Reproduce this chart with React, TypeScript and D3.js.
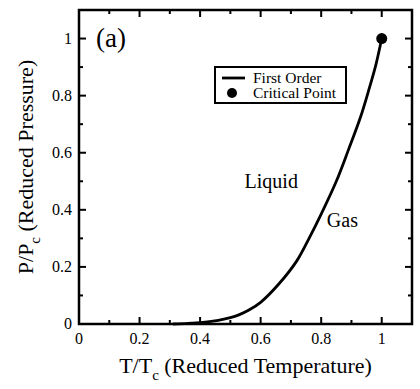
import React from 'react';
import * as d3 from 'd3';

// first-order line
const reducedT = [0.31, 0.36, 0.41, 0.46, 0.5, 0.53, 0.56, 0.6, 0.66, 0.72, 0.76, 0.8, 0.85, 0.89, 0.93, 0.96, 0.98, 1.0];
const reducedP = [0, 0.002, 0.006, 0.013, 0.022, 0.033, 0.048, 0.076, 0.14, 0.222, 0.3, 0.385, 0.5, 0.61, 0.725, 0.83, 0.905, 1.0];
const criticalPoint = [1, 1];

const majorTicks = [0, 0.2, 0.4, 0.6, 0.8, 1];
const minorTicks = [0.1, 0.3, 0.5, 0.7, 0.9, 1.1];
const legendLabels = ['First Order', 'Critical Point'];
const regionLabels = [
  { text: 'Liquid', t: 0.635, p: 0.475 },
  { text: 'Gas', t: 0.87, p: 0.34 },
];

const W = 420;
const H = 389;
const margin = { top: 10, right: 8, bottom: 65, left: 79 };
const FONT = "'Liberation Serif'";

const width = W - margin.left - margin.right;
const height = H - margin.top - margin.bottom;

const x = d3.scaleLinear().domain([0, 1.1]).range([0, width]);
const y = d3.scaleLinear().domain([0, 1.1]).range([height, 0]);
const fmt = (d: number) => String(+d.toFixed(1));

const line = d3
  .line<number>()
  .x((t) => x(t))
  .y((_, i) => y(reducedP[i]))
  .curve(d3.curveCatmullRom.alpha(0.5));

const MAJ = 7;
const MIN = 4;

const txt = (size: number) => ({ fontFamily: FONT, fontSize: `${size}px` });

const App = () => {
  const tickLine = { stroke: '#000', strokeWidth: 2 };
  return (
    <svg
      width={W}
      height={H}
      style={{ position: 'absolute', left: 0, top: 0, background: '#fff', fontFamily: FONT }}
    >
      <g transform={`translate(${margin.left},${margin.top})`}>
        {/* inward ticks on all four sides */}
        {[...majorTicks.map((v) => [v, MAJ]), ...minorTicks.map((v) => [v, MIN])].map(([v, len], i) => (
          <g key={`t${i}`}>
            <line x1={x(v)} x2={x(v)} y1={height} y2={height - len} {...tickLine} />
            <line x1={x(v)} x2={x(v)} y1={0} y2={len} {...tickLine} />
            <line x1={0} x2={len} y1={y(v)} y2={y(v)} {...tickLine} />
            <line x1={width} x2={width - len} y1={y(v)} y2={y(v)} {...tickLine} />
          </g>
        ))}
        <rect width={width} height={height} fill="none" stroke="#000" strokeWidth={2.5} />

        {majorTicks.map((v) => (
          <text key={`xl${v}`} x={x(v)} y={height + 20} textAnchor="middle" style={txt(16)}>
            {fmt(v)}
          </text>
        ))}
        {majorTicks.map((v) => (
          <text key={`yl${v}`} x={-7} y={y(v)} dy="0.33em" textAnchor="end" style={txt(16)}>
            {fmt(v)}
          </text>
        ))}

        {/* axis titles */}
        <text x={width / 2} y={height + 49} textAnchor="middle" style={txt(22)}>
          <tspan>T/T</tspan>
          <tspan dy={7} style={txt(15)}>c</tspan>
          <tspan dy={-7}> (Reduced Temperature)</tspan>
        </text>
        <text transform={`translate(-46,${height / 2}) rotate(-90)`} textAnchor="middle" style={txt(22)}>
          <tspan>P/P</tspan>
          <tspan dy={7} style={txt(15)}>c</tspan>
          <tspan dy={-7}> (Reduced Pressure)</tspan>
        </text>

        <text x={17} y={37} style={txt(27)}>
          (a)
        </text>

        <path d={line(reducedT) ?? ''} fill="none" stroke="#000" strokeWidth={2.8} />
        <circle cx={x(criticalPoint[0])} cy={y(criticalPoint[1])} r={5.5} fill="#000" />

        {regionLabels.map((r) => (
          <text key={r.text} x={x(r.t)} y={y(r.p)} textAnchor="middle" style={txt(20)}>
            {r.text}
          </text>
        ))}

        {/* legend */}
        <g transform={`translate(${215 - margin.left},${67 - margin.top})`}>
          <rect width={131} height={36} fill="#fff" stroke="#000" strokeWidth={2} />
          <line x1={7} x2={30} y1={11} y2={11} stroke="#000" strokeWidth={2.8} />
          <circle cx={17} cy={26} r={5} fill="#000" />
          {legendLabels.map((l, i) => (
            <text key={l} x={38} y={16 + i * 15} style={txt(15.5)}>
              {l}
            </text>
          ))}
        </g>
      </g>
    </svg>
  );
};

export default App;
